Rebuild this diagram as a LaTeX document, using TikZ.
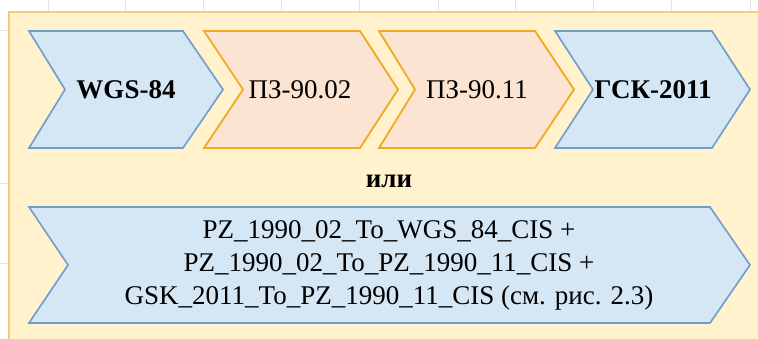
\documentclass[tikz,border=0pt]{standalone}
\usepackage{fontspec}
\setmainfont{Liberation Serif}
\definecolor{panelfill}{HTML}{FFF2CC}
\definecolor{panelline}{HTML}{F6CC7C}
\definecolor{bluefill}{HTML}{D5E6F5}
\definecolor{blueline}{HTML}{6F9CCB}
\definecolor{orfill}{HTML}{FCE4D2}
\definecolor{orline}{HTML}{F2A923}
\definecolor{gridgray}{HTML}{E2E2E2}
\tikzset{
  bluechev/.style={fill=bluefill, draw=blueline, line width=1.6pt, line join=miter},
  orchev/.style={fill=orfill, draw=orline, line width=1.8pt, line join=miter},
  lbl/.style={font=\fontsize{27}{33}\selectfont, align=center, inner sep=0pt},
  boldlbl/.style={lbl, font=\fontsize{27}{33}\selectfont\bfseries},
}
% chevron: #1 style, #2 left x, #3 right x (before tip), #4 top y, #5 bottom y, #6 tip depth, #7 notch depth
\newcommand{\chevshape}[7]{%
  \path[#1] (#2,#4) -- (#3,#4) -- ({#3+#6},{(#4+#5)/2}) -- (#3,#5) -- (#2,#5)
     -- ({#2+#7},{(#4+#5)/2}) -- cycle;}
\begin{document}
\begin{tikzpicture}[x=1pt,y=-1pt]
  \useasboundingbox (0,0) rectangle (758,338);
  \fill[white] (0,0) rectangle (758,338);
  % faint sheet grid outside the panel
  \foreach \gx in {48,125,203,281,359,438,515,593,671,750}
    \draw[gridgray, line width=0.8pt] (\gx,0) -- (\gx,12);
  \foreach \gy in {30,183,263}
    \draw[gridgray, line width=0.8pt] (0,\gy) -- (9,\gy);
  % panel
  \path[fill=panelfill, draw=panelline, line width=2pt] (9,12) rectangle (770,350);
  % first row of chevrons
  \chevshape{bluechev}{29}{183}{31}{148}{40}{36}
  \chevshape{orchev}{204}{360}{31}{148}{38}{39}
  \chevshape{orchev}{379}{535}{31}{148}{39}{36}
  \chevshape{bluechev}{555}{712}{31}{148}{38}{38}
  \node[boldlbl] (wgs) at (126,89.5) {WGS-84};
  \node[lbl] (pz02) at (300,89.5) {ПЗ-90.02};
  \node[lbl] (pz11) at (477,89.5) {ПЗ-90.11};
  \node[boldlbl] (gsk) at (653,89.5) {ГСК-2011};
  % alternative
  \node[lbl, font=\fontsize{27}{33}\selectfont\bfseries, anchor=base] (ili) at (389,187) {или};
  \chevshape{bluechev}{29}{710}{207}{323}{40}{39}
  \node[lbl] (combo) at (389,265) {PZ\_1990\_02\_To\_WGS\_84\_CIS +\\
    PZ\_1990\_02\_To\_PZ\_1990\_11\_CIS +\\
    GSK\_2011\_To\_PZ\_1990\_11\_CIS (см. рис. 2.3)};
\end{tikzpicture}
\end{document}
